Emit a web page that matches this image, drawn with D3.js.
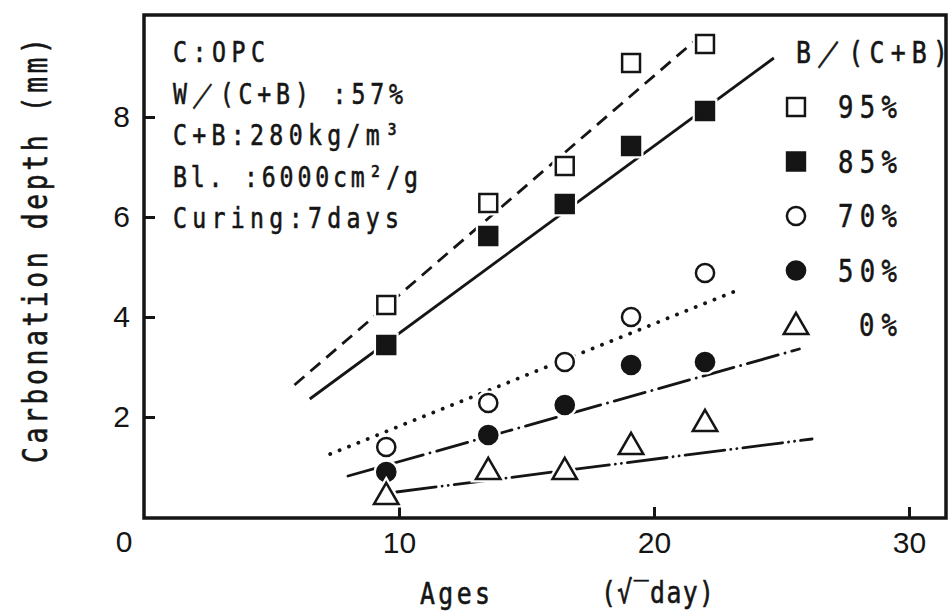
<!DOCTYPE html>
<html>
<head>
<meta charset="utf-8">
<script src="https://cdn.jsdelivr.net/npm/d3@7"></script>
<style>
  html, body { margin: 0; padding: 0; background: #fff; }
  svg { display: block; }
</style>
</head>
<body>
<svg id="chart" width="948" height="612"></svg>
<script>
// ages in sqrt(day), depths in mm
var ages = [9.5, 13.5, 16.5, 19.1, 22.0];
var depth95 = [4.24, 6.28, 7.02, 9.08, 9.46];
var depth85 = [3.44, 5.62, 6.26, 7.42, 8.12];
var depth70 = [1.40, 2.28, 3.10, 4.00, 4.88];
var depth50 = [0.90, 1.64, 2.24, 3.04, 3.10];
var depth0 = [0.44, 0.94, 0.94, 1.44, 1.90];

// regression lines: [age, depth] at both ends
var fit95 = [[5.9, 2.64], [22.0, 9.70]];
var fit85 = [[6.5, 2.36], [24.7, 9.18]];
var fit70 = [[7.3, 1.26], [23.2, 4.52]];
var fit50 = [[8.0, 0.82], [25.7, 3.36]];
var fit0 = [[9.9, 0.50], [26.2, 1.56]];

var seriesLabels = ['95%', '85%', '70%', '50%', '0%'];
var xTicks = [10, 20, 30];
var yTicks = [2, 4, 6, 8];
var notes = ['C:OPC', 'W\uFF0F(C+B) :57%', 'C+B:280kg/m\u00B3', 'Bl. :6000cm\u00B2/g', 'Curing:7days'];

(function () {
  'use strict';

  var svg = d3.select('#chart');
  var ink = '#151515';
  var mono = '"DejaVu Sans Mono", "Liberation Mono", monospace';
  var sans = '"Liberation Sans", Arial, sans-serif';

  var x = d3.scaleLinear().domain([0, 31.45]).range([144, 946]);
  var y = d3.scaleLinear().domain([0, 10]).range([517, 17]);

  var series = [
    { label: seriesLabels[0], values: depth95, fit: fit95, shape: 'square', filled: false, dash: '13 8' },
    { label: seriesLabels[1], values: depth85, fit: fit85, shape: 'square', filled: true, dash: null },
    { label: seriesLabels[2], values: depth70, fit: fit70, shape: 'circle', filled: false, dash: '0.1 10' },
    { label: seriesLabels[3], values: depth50, fit: fit50, shape: 'circle', filled: true, dash: '32 7 0.1 7' },
    { label: seriesLabels[4], values: depth0, fit: fit0, shape: 'triangle', filled: false, dash: '40 6 0.1 6 0.1 6' }
  ];

  var symType = { square: d3.symbolSquare, circle: d3.symbolCircle, triangle: d3.symbolTriangle };
  var symSize = { square: 320, circle: 260, triangle: 260 };

  function symbolPath(d) {
    return d3.symbol().type(symType[d.shape]).size(symSize[d.shape])();
  }

  // frame
  svg.append('rect')
    .attr('x', x(0)).attr('y', y(10) - 2)
    .attr('width', x.range()[1] - x(0))
    .attr('height', y(0) + 1 - (y(10) - 2))
    .attr('fill', 'none')
    .attr('stroke', ink)
    .attr('stroke-width', 3.5);

  // axes (ticks pointing inward)
  var xAxis = svg.append('g')
    .attr('transform', 'translate(0,' + (y(0) + 1) + ')')
    .call(d3.axisBottom(x).tickValues(xTicks).tickSize(-11).tickPadding(14));
  var yAxis = svg.append('g')
    .attr('transform', 'translate(' + x(0) + ',0)')
    .call(d3.axisLeft(y).tickValues(yTicks).tickSize(-11).tickPadding(14));

  [xAxis, yAxis].forEach(function (ax) {
    ax.select('.domain').remove();
    ax.selectAll('line').attr('stroke', ink).attr('stroke-width', 3);
    ax.selectAll('text')
      .attr('fill', ink)
      .style('font-family', sans)
      .style('font-size', '30px');
  });

  svg.append('text')
    .attr('x', 124).attr('y', 552)
    .attr('text-anchor', 'middle')
    .attr('fill', ink)
    .style('font-family', sans)
    .style('font-size', '30px')
    .text('0');

  // condensed typewriter style text: glyphs squeezed horizontally, spacing stretched
  var squeeze = 0.8;
  function label(g, tx, ty, str, size, len, anchor) {
    return g.append('g')
      .attr('transform', 'translate(' + tx + ',' + ty + ') scale(' + squeeze + ',1)')
      .append('text')
      .attr('text-anchor', anchor || 'start')
      .attr('textLength', len / squeeze)
      .attr('lengthAdjust', 'spacing')
      .attr('fill', ink)
      .attr('stroke', ink)
      .attr('stroke-width', 0.6)
      .style('font-family', mono)
      .style('font-size', size + 'px')
      .text(str);
  }

  var noteLens = [92, 230, 226, 245, 226];
  notes.forEach(function (n, i) {
    label(svg, 173, 62 + i * 41.5, n, 29, noteLens[i]);
  });

  // axis titles
  label(svg, 420, 604, 'Ages', 31, 70);
  label(svg, 601, 603, '(\u221A\u203Eday)', 31, 113);
  svg.append('g')
    .attr('transform', 'translate(47,463) rotate(-90)')
    .call(function (g) { label(g, 0, 0, 'Carbonation depth  (mm)', 33, 425); });

  // fit lines
  var line = d3.line()
    .x(function (d) { return x(d[0]); })
    .y(function (d) { return y(d[1]); });

  var plot = svg.append('g');

  plot.selectAll('path.fit')
    .data(series)
    .enter()
    .append('path')
    .attr('class', 'fit')
    .attr('d', function (d) { return line(d.fit); })
    .attr('fill', 'none')
    .attr('stroke', ink)
    .attr('stroke-width', function (d) { return d.shape === 'circle' && !d.filled ? 3.8 : 2.8; })
    .attr('stroke-linecap', function (d) { return d.dash && d.dash.indexOf('0.1') >= 0 ? 'round' : 'butt'; })
    .attr('stroke-dasharray', function (d) { return d.dash; });

  // markers
  var points = [];
  series.forEach(function (s) {
    s.values.forEach(function (v, i) {
      points.push({ shape: s.shape, filled: s.filled, age: ages[i], depth: v });
    });
  });

  var mk = plot.selectAll('g.pt')
    .data(points)
    .enter()
    .append('g')
    .attr('class', 'pt')
    .attr('transform', function (d) {
      var dy = d.shape === 'triangle' ? 2 : 0;
      return 'translate(' + x(d.age) + ',' + (y(d.depth) + dy) + ')';
    });

  mk.append('path')
    .attr('d', symbolPath)
    .attr('fill', '#fff')
    .attr('stroke', '#fff')
    .attr('stroke-width', 7);

  mk.append('path')
    .attr('d', symbolPath)
    .attr('fill', function (d) { return d.filled ? ink : '#fff'; })
    .attr('stroke', ink)
    .attr('stroke-width', 2.5);

  // legend
  var legend = svg.append('g');
  label(legend, 796, 63, 'B\uFF0F(C+B)', 31, 152);

  var rows = legend.selectAll('g.row')
    .data(series)
    .enter()
    .append('g')
    .attr('class', 'row')
    .attr('transform', function (d, i) { return 'translate(0,' + (107 + i * 54.5) + ')'; });

  rows.append('path')
    .attr('transform', function (d) { return 'translate(796,' + (d.shape === 'triangle' ? 2 : 0) + ')'; })
    .attr('d', symbolPath)
    .attr('fill', function (d) { return d.filled ? ink : '#fff'; })
    .attr('stroke', ink)
    .attr('stroke-width', 2.5);

  rows.each(function (d) {
    var len = d.label.length === 2 ? 38 : 59;
    label(d3.select(this), 897, 11, d.label, 32, len, 'end');
  });
})();
</script>
</body>
</html>
